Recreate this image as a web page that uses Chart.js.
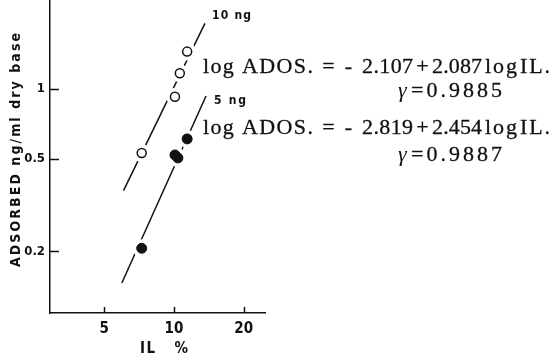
<!DOCTYPE html>
<html>
<head>
<meta charset="utf-8">
<script src="https://cdn.jsdelivr.net/npm/chart.js@4/dist/chart.umd.min.js"></script>
<style>
  html, body { margin: 0; padding: 0; background: #fff; }
  #wrap { width: 554px; height: 357px; }
</style>
</head>
<body>
<div id="wrap"><canvas id="chartCanvas" width="554" height="357"></canvas></div>
<script>
// IL % vs adsorbed ADOS (ng/ml dry base), log-log
const il10 = [7.26, 10.1, 10.6, 11.4];
const ads10 = [0.53, 0.927, 1.17, 1.45];
const il5 = [7.26, 10.1, 10.4, 11.4];
const ads5 = [0.206, 0.52, 0.505, 0.61];

// fitted lines as drawn (end points)
const fitIl10 = [6.06, 13.6];
const fitAds10 = [0.365, 1.92];
const fitIl5 = [5.96, 13.75];
const fitAds5 = [0.146, 0.933];

const xTicks = [5, 10, 20];
const yTicks = [0.2, 0.5, 1];

const seriesNames = ['10 ng', '5 ng'];
// regression text, split in pieces: log ADOS. = - a + b log IL.
const eqParts10 = ['log ADOS.', '=', '-', '2.107', '+', '2.087', 'log', 'IL.'];
const eqParts5 = ['log ADOS.', '=', '-', '2.819', '+', '2.454', 'log', 'IL.'];
const rValues = ['=0.9885', '=0.9887'];

(function() {
  'use strict';

  const ink = '#111';
  const axisFont = "'DejaVu Sans Condensed', 'Liberation Sans Narrow', 'DejaVu Sans', sans-serif";
  const serif = "'Liberation Serif', 'DejaVu Serif', serif";

  function pts(xs, ys) {
    return xs.map((x, i) => ({ x: x, y: ys[i] }));
  }

  // draw text stretched between x0 and x1 (letter spacing); heavy adds a thin outline
  function fitText(ctx, text, x0, x1, y, font, heavy) {
    ctx.font = font;
    ctx.letterSpacing = '0px';
    const w = ctx.measureText(text).width;
    let x = x0;
    if (text.length < 2) {
      ctx.textAlign = 'center';
      x = (x0 + x1) / 2;
    } else {
      ctx.letterSpacing = ((x1 - x0 - w) / (text.length - 1)).toFixed(2) + 'px';
      ctx.textAlign = 'left';
    }
    ctx.fillText(text, x, y);
    if (heavy) {
      ctx.lineWidth = 0.3;
      ctx.strokeText(text, x, y);
    }
    ctx.letterSpacing = '0px';
  }

  // horizontal slots of the equation pieces
  const eqSlots = [[203, 313], [320, 337], [343, 354], [362, 413], [415, 430], [432, 482], [485, 517], [520, 550]];

  const annot = {
    id: 'annot',
    afterDraw(chart) {
      const ctx = chart.ctx;
      const xs = chart.scales.x;
      const ys = chart.scales.y;
      ctx.save();
      ctx.strokeStyle = ink;
      ctx.fillStyle = ink;
      ctx.lineWidth = 1.5;
      // inside tick marks
      ctx.beginPath();
      xTicks.forEach(v => {
        const px = Math.round(xs.getPixelForValue(v)) + 0.5;
        ctx.moveTo(px, ys.bottom);
        ctx.lineTo(px, ys.bottom - 6);
      });
      yTicks.forEach(v => {
        const py = Math.round(ys.getPixelForValue(v)) + 0.5;
        ctx.moveTo(xs.left, py);
        ctx.lineTo(xs.left + 9, py);
      });
      ctx.stroke();

      // axis titles
      ctx.textBaseline = 'middle';
      ctx.save();
      ctx.translate(16, 150);
      ctx.rotate(-Math.PI / 2);
      fitText(ctx, 'ADSORBED ng/ml dry base', -117, 117, 0, 'bold 14px ' + axisFont);
      ctx.restore();
      fitText(ctx, 'IL   %', 140, 188, 349, 'bold 15px ' + axisFont);

      // series labels
      fitText(ctx, seriesNames[0], 212, 251, 16, 'bold 12px ' + axisFont);
      fitText(ctx, seriesNames[1], 214, 246, 101, 'bold 12px ' + axisFont);

      // regression equations
      ctx.textBaseline = 'alphabetic';
      const eqBase = [73, 134];
      const rBase = [97, 161];
      [eqParts10, eqParts5].forEach((parts, i) => {
        parts.forEach((p, k) => {
          fitText(ctx, p, eqSlots[k][0], eqSlots[k][1], eqBase[i], '22px ' + serif, true);
        });
        ctx.font = 'italic 22px ' + serif;
        ctx.textAlign = 'left';
        ctx.fillText('\u03b3', 398, rBase[i]);
        fitText(ctx, rValues[i], 411, 502, rBase[i], '22px ' + serif, true);
      });
      ctx.restore();
    }
  };

  const datasets = [
    { data: pts(fitIl10, fitAds10), showLine: true, borderColor: ink, borderWidth: 1.5, pointRadius: 0, order: 3 },
    { data: pts(fitIl5, fitAds5), showLine: true, borderColor: ink, borderWidth: 1.5, pointRadius: 0, order: 3 },
    // white halos break the lines around the markers
    { data: pts(il10, ads10), pointRadius: 9, pointBackgroundColor: '#fff', pointBorderWidth: 0, order: 2 },
    { data: pts(il5, ads5), pointRadius: 9, pointBackgroundColor: '#fff', pointBorderWidth: 0, order: 2 },
    { data: pts(il10, ads10), pointRadius: 4.5, pointBackgroundColor: '#fff', pointBorderColor: ink, pointBorderWidth: 1.5, order: 1 },
    { data: pts(il5, ads5), pointRadius: 5, pointBackgroundColor: ink, pointBorderColor: ink, pointBorderWidth: 1, order: 1 }
  ];

  const ctx = document.getElementById('chartCanvas').getContext('2d');
  new Chart(ctx, {
    type: 'scatter',
    data: { datasets: datasets },
    options: {
      responsive: false,
      animation: false,
      events: [],
      layout: { autoPadding: false, padding: { left: 0, right: 289, top: 0, bottom: 0 } },
      plugins: { legend: { display: false }, tooltip: { enabled: false } },
      scales: {
        x: {
          type: 'logarithmic',
          min: 2.92,
          max: 24.7,
          afterFit: s => { s.height = 44; s.paddingLeft = 0; s.paddingRight = 0; },
          afterBuildTicks: s => { s.ticks = xTicks.map(v => ({ value: v })); },
          grid: { display: false, drawTicks: false },
          border: { display: true, color: ink, width: 1.5 },
          ticks: {
            color: ink,
            padding: 7,
            autoSkip: false,
            maxRotation: 0,
            font: { family: axisFont, size: 15, weight: 'bold' },
            callback: v => String(v)
          }
        },
        y: {
          type: 'logarithmic',
          min: 0.1084,
          max: 2.42,
          afterFit: s => { s.width = 50; s.paddingTop = 0; s.paddingBottom = 0; },
          afterBuildTicks: s => { s.ticks = yTicks.map(v => ({ value: v })); },
          grid: { display: false, drawTicks: false },
          border: { display: true, color: ink, width: 1.5 },
          ticks: {
            color: ink,
            padding: 5,
            autoSkip: false,
            font: { family: axisFont, size: 13, weight: 'bold' },
            callback: v => String(v)
          }
        }
      }
    },
    plugins: [annot]
  });
})();
</script>
</body>
</html>
